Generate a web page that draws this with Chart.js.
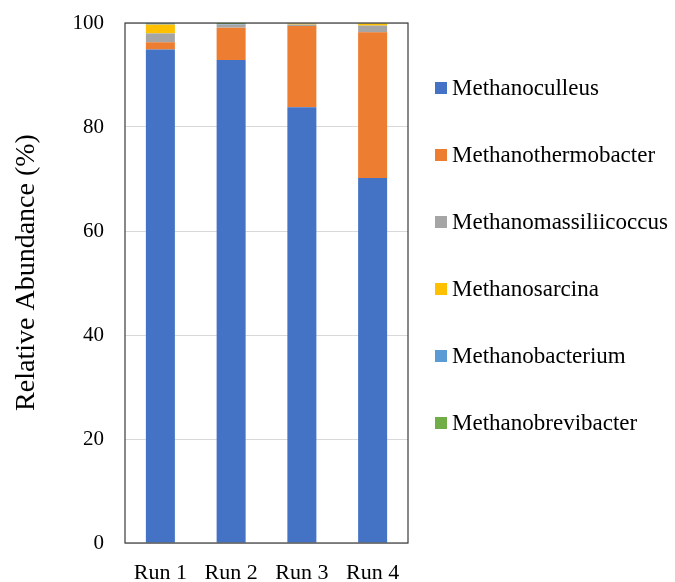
<!DOCTYPE html>
<html>
<head>
<meta charset="utf-8">
<script src="https://cdn.jsdelivr.net/npm/chart.js@4.4.1/dist/chart.umd.min.js"></script>
<style>
  html, body { margin: 0; padding: 0; background: #ffffff; }
  #wrap { width: 675px; height: 582px; position: relative; }
</style>
</head>
<body>
<div id="wrap"><canvas id="c" width="675" height="582"></canvas></div>
<script>
// Runs (categories)
const runs = ['Run 1', 'Run 2', 'Run 3', 'Run 4'];

// Relative abundance (%) of each methanogen genus per run
const methanoculleus        = [94.9, 92.9, 83.8, 70.2];
const methanothermobacter   = [1.4, 6.2, 15.6, 28.0];
const methanomassiliicoccus = [1.7, 0.6, 0.3, 1.3];
const methanosarcina        = [1.7, 0.0, 0.2, 0.4];
const methanobacterium      = [0.2, 0.1, 0.1, 0.05];
const methanobrevibacter    = [0.1, 0.2, 0.0, 0.05];

const yTicks = [0, 20, 40, 60, 80, 100];

const FONT = '"Liberation Serif", "Times New Roman", serif';

// Legend drawn as a vertical list to the right of the plot
const sideLegend = {
  id: 'sideLegend',
  afterDraw(chart) {
    const ctx = chart.ctx;
    const x0 = 435, y0 = 88, step = 67, box = 12;
    ctx.save();
    ctx.font = '23px ' + FONT;
    ctx.textBaseline = 'middle';
    ctx.textAlign = 'left';
    chart.data.datasets.forEach((ds, i) => {
      const y = y0 + i * step;
      ctx.fillStyle = ds.backgroundColor;
      ctx.fillRect(x0, y - box / 2, box, box);
      ctx.fillStyle = '#000000';
      ctx.fillText(ds.label, x0 + 17, y + 1);
    });
    ctx.restore();
  }
};

// Frame around the plot area
const plotFrame = {
  id: 'plotFrame',
  afterDatasetsDraw(chart) {
    const a = chart.chartArea;
    const ctx = chart.ctx;
    ctx.save();
    ctx.strokeStyle = '#3a3a3a';
    ctx.lineWidth = 1.2;
    ctx.strokeRect(a.left, a.top, a.right - a.left, a.bottom - a.top);
    ctx.restore();
  }
};

new Chart(document.getElementById('c'), {
  type: 'bar',
  data: {
    labels: runs,
    datasets: [
      { label: 'Methanoculleus', data: methanoculleus, backgroundColor: '#4472C4' },
      { label: 'Methanothermobacter', data: methanothermobacter, backgroundColor: '#ED7D31' },
      { label: 'Methanomassiliicoccus', data: methanomassiliicoccus, backgroundColor: '#A5A5A5' },
      { label: 'Methanosarcina', data: methanosarcina, backgroundColor: '#FFC000' },
      { label: 'Methanobacterium', data: methanobacterium, backgroundColor: '#5B9BD5' },
      { label: 'Methanobrevibacter', data: methanobrevibacter, backgroundColor: '#70AD47' }
    ]
  },
  options: {
    responsive: false,
    animation: false,
    datasets: { bar: { barPercentage: 0.41, categoryPercentage: 1.0, borderWidth: 0 } },
    layout: { padding: { left: 0, top: 23, right: 267, bottom: 0 } },
    plugins: {
      legend: { display: false },
      tooltip: { enabled: false }
    },
    scales: {
      x: {
        stacked: true,
        grid: { display: false, drawTicks: false },
        border: { display: false },
        ticks: { color: '#000000', font: { family: FONT, size: 22 }, padding: 17 },
        afterFit(s) { s.height = 39; }
      },
      y: {
        stacked: true,
        min: 0,
        max: 100,
        afterBuildTicks(s) { s.ticks = yTicks.map(v => ({ value: v })); },
        grid: { color: '#d9d9d9', lineWidth: 1, drawTicks: false },
        border: { display: false },
        ticks: { color: '#000000', font: { family: FONT, size: 21 }, padding: 21 },
        title: {
          display: true,
          text: '   Relative Abundance (%)',
          color: '#000000',
          font: { family: FONT, size: 28 },
          padding: { top: 10, bottom: 0 }
        },
        afterFit(s) {
          s.width = 125;
          s.paddingTop = 0;
          s.paddingBottom = 0;
        }
      }
    }
  },
  plugins: [plotFrame, sideLegend]
});
</script>
</body>
</html>
